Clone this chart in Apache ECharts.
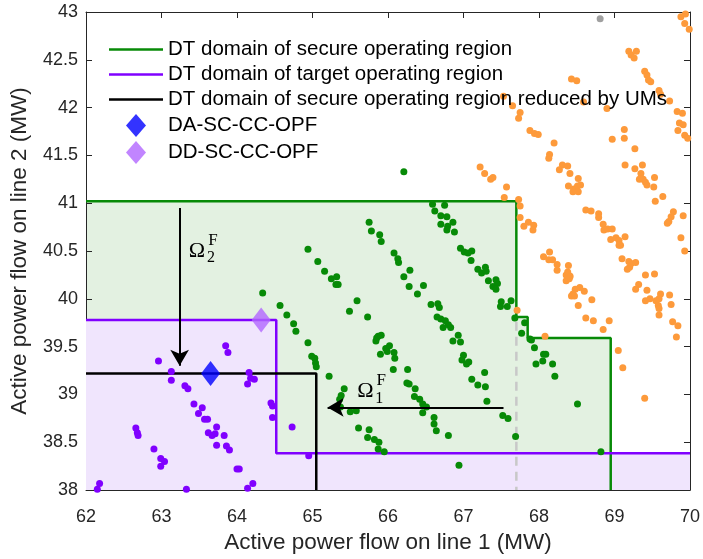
<!DOCTYPE html>
<html>
<head>
<meta charset="utf-8">
<script src="https://cdn.jsdelivr.net/npm/echarts@6/dist/echarts.min.js"></script>
<style>
  html, body { margin: 0; padding: 0; background: #fff; }
  #chart { width: 703px; height: 559px; }
</style>
</head>
<body>
<div id="chart"></div>
<script>
// ---- axis ranges and tick labels ----
const xMin = 62, xMax = 70, xStep = 1;
const yMin = 38, yMax = 43, yStep = 0.5;

// ---- DT-domain boundaries (line 1 flow, line 2 flow) ----
const secureRegion  = [[62, 41.02], [67.70, 41.02], [67.70, 39.81], [67.85, 39.81], [67.85, 39.59], [68.95, 39.59], [68.95, 38]];
const targetRegion  = [[62, 39.78], [64.52, 39.78], [64.52, 38.385], [70, 38.385]];
const reducedRegion = [[62, 39.22], [65.05, 39.22], [65.05, 38]];
const limitLine     = [[67.70, 39.76], [67.70, 38]];

// ---- optimal operating points ----
const daPoint = [[63.65, 39.22]];
const ddPoint = [[64.32, 39.78]];

// ---- arrows showing the fluctuation ranges ----
const arrowOmega2 = [[63.24, 40.95], [63.24, 39.30]];
const arrowOmega1 = [[67.53, 38.865], [65.20, 38.865]];

// ---- sampled operating points ----
const pointsTarget = [
  [62.96,39.35],[63.13,39.24],[63.13,39.15],[63.31,39.09],[63.35,39.06],[63.43,38.90],[63.54,38.86],[63.49,38.80],
  [63.57,38.74],[63.61,38.74],[63.73,38.66],[63.62,38.60],[63.67,38.57],[63.71,38.59],[63.83,38.57],[63.73,38.47],
  [63.86,38.46],[63.90,38.42],[63.85,39.51],[63.88,39.44],[64.16,39.23],[64.18,39.17],[64.23,39.16],[64.14,39.11],
  [64.45,38.91],[64.47,38.88],[64.47,38.76],[64.73,38.66],[64.95,38.36],[62.66,38.65],[62.68,38.60],[62.69,38.57],
  [62.90,38.43],[62.99,38.33],[63.04,38.30],[62.99,38.25],[64.00,38.22],[64.03,38.22],[62.18,38.07],[62.15,38.01],
  [63.33,38.01],[64.14,38.02],[64.21,38.07]
];

const pointsSecure = [
  [65.75,40.80],[65.78,40.71],[65.89,40.67],[65.91,40.60],[66.08,40.48],[66.13,40.42],[66.14,40.38],[66.29,40.30],
  [66.21,40.23],[66.28,40.13],[66.39,40.05],[64.94,40.52],[65.07,40.39],[65.16,40.29],[65.25,40.21],[65.32,40.23],
  [65.31,40.15],[65.34,40.15],[64.34,40.06],[64.57,39.93],[64.66,39.83],[64.75,39.74],[64.78,39.66],[64.94,39.54],
  [64.99,39.40],[65.03,39.38],[65.04,39.33],[65.05,39.29],[65.22,39.19],[65.59,39.98],[65.49,39.87],[65.73,39.81],
  [65.85,39.59],[65.87,39.61],[65.91,39.62],[65.84,39.56],[65.90,39.42],[65.97,39.48],[66.02,39.51],[65.99,39.45],
  [66.08,39.44],[66.09,39.38],[66.07,39.26],[66.26,39.26],[66.25,39.12],[66.28,39.11],[66.36,39.06],[66.35,38.98],
  [65.42,39.06],[65.38,38.99],[65.36,38.95],[65.37,38.87],[65.50,38.82],[65.58,38.83],[65.61,38.65],[65.75,38.63],
  [65.73,38.55],[65.82,38.53],[65.88,38.50],[65.87,38.43],[65.95,38.40],
  [66.59,40.99],[66.75,40.98],[66.62,40.92],[66.70,40.87],[66.78,40.86],[66.86,40.80],[66.70,40.78],[66.79,40.76],
  [66.78,40.72],[66.88,40.70],[66.96,40.53],[67.01,40.49],[67.11,40.50],[67.06,40.48],[67.10,40.40],[67.19,40.31],
  [67.29,40.33],[67.24,40.27],[67.30,40.29],[67.33,40.19],[67.43,40.20],[67.39,40.13],[67.45,40.16],[67.43,40.10],
  [67.63,39.98],[67.50,39.97],[67.58,39.92],[67.49,39.92],[66.47,40.14],[66.57,39.94],[66.66,39.95],[66.68,39.91],
  [66.65,39.81],[66.70,39.79],[66.76,39.77],[66.80,39.73],[66.73,39.70],[66.83,39.70],[66.93,39.62],[66.86,39.56],
  [66.96,39.55],[67.00,39.41],[66.98,39.36],[67.07,39.34],[67.04,39.32],[67.28,39.23],[67.11,39.16],[67.19,39.10],
  [67.29,39.08],[67.31,38.93],[66.42,38.95],[66.46,38.90],[66.51,38.87],[66.46,38.81],[66.61,38.76],[66.61,38.69],
  [66.64,38.62],[66.80,38.57],[67.52,38.78],[67.59,38.75],[67.69,38.56],[66.94,38.26],[67.68,39.80],[67.77,39.64],
  [67.81,39.75],[67.88,39.58],[67.90,39.57],[67.94,39.49],[68.06,39.42],[68.09,39.42],[68.05,39.35],[67.96,39.32],
  [68.18,39.32],[68.21,39.19],[68.51,38.90],[68.82,38.40],[66.21,41.33]
];

const pointsInsecure = [
  [69.88,42.95],[69.94,42.98],[69.93,42.88],[69.99,42.82],[69.19,42.59],[69.22,42.55],[69.29,42.59],[69.26,42.52],
  [69.40,42.38],[69.43,42.34],[69.45,42.29],[69.48,42.27],[69.59,42.18],[69.61,42.14],[69.73,42.07],[69.83,41.96],
  [69.90,41.94],[69.86,41.84],[69.91,41.82],[69.84,41.76],[69.93,41.71],[69.97,41.68],[68.43,42.30],[68.50,42.28],
  [67.53,42.12],[67.65,42.02],[67.75,41.95],[67.73,41.89],[68.59,42.06],[68.90,41.99],[67.88,41.76],[67.94,41.73],
  [67.99,41.72],[69.13,41.77],[69.13,41.68],[68.97,41.67],[68.20,41.63],[69.27,41.57],[68.14,41.51],[68.13,41.47],
  [67.22,41.38],[67.28,41.31],[67.36,41.25],[67.39,41.27],[67.57,41.17],[67.54,41.06],[67.73,41.04],[67.75,40.97],
  [67.75,40.85],[67.80,40.76],[67.86,40.80],[67.93,40.77],[67.92,40.72],[68.31,41.40],[68.38,41.39],[68.27,41.35],
  [68.41,41.31],[68.52,41.26],[68.39,41.18],[68.46,41.15],[68.51,41.18],[68.55,41.19],[68.52,41.12],[68.45,41.12],
  [69.14,41.40],[69.27,41.36],[69.37,41.40],[69.35,41.31],[69.33,41.25],[69.38,41.25],[69.41,41.22],[69.43,41.19],
  [69.53,41.27],[69.52,41.17],[69.64,41.07],[69.54,41.02],[68.62,40.93],[68.69,40.92],[68.79,40.89],[68.79,40.85],
  [68.85,40.78],[68.86,40.72],[68.91,40.73],[68.97,40.73],[68.95,40.62],[69.02,40.64],[69.06,40.61],[69.14,40.65],
  [69.08,40.56],[69.06,40.56],[69.78,40.91],[69.75,40.86],[69.72,40.81],[69.70,40.79],[69.91,40.87],[69.88,40.64],
  [69.93,40.50],[68.06,40.44],[68.14,40.49],[68.13,40.41],[68.18,40.41],[68.24,40.36],[68.24,40.30],[68.39,40.35],
  [68.36,40.25],[68.41,40.24],[69.10,40.42],[69.19,40.39],[69.22,40.37],[69.28,40.38],[69.20,40.33],[69.17,40.31],
  [69.41,40.25],[69.53,40.26],[68.38,40.28],[68.41,40.23],[68.36,40.19],[68.40,40.21],[68.48,40.10],[68.54,40.12],
  [68.60,40.08],[68.45,40.05],[68.43,40.03],[68.47,40.03],[68.70,39.99],[68.52,39.93],[68.62,39.80],[68.72,39.77],
  [68.85,39.68],[68.93,39.77],[68.08,39.61],[69.05,39.46],[69.11,39.28],[69.40,38.96],[69.32,40.15],[69.28,40.10],
  [69.43,40.09],[69.61,40.05],[69.59,40.00],[69.55,39.98],[69.58,39.93],[69.59,39.90],[69.41,39.98],[69.47,40.00],
  [69.59,39.83],[69.73,40.04],[69.75,39.94],[69.77,39.76],[69.84,39.72],[69.82,39.60],[67.71,39.88]
];

const pointsOther = [[68.81, 42.93]];

// ---- symbol label anchors (Omega_2^F, Omega_1^F) ----
const omegaLabels = [
  { at: [63.47, 40.50], sub: '2' },
  { at: [65.70, 39.03], sub: '1' }
];

const FONT = '"Liberation Sans", Arial, Helvetica, sans-serif';
const AXIS_COLOR = '#262626';

// legend glyphs: a thin bar for boundary lines, an upright diamond for operating points
const ICON_LINE = 'path://M0 0H54V2.5H0Z';
const ICON_DIAMOND = 'path://M10 0L20 11.5L10 23L0 11.5Z';

const chart = echarts.init(document.getElementById('chart'), null, { renderer: 'canvas' });

const boxAxis = {
  axisLine: { show: true, onZero: false, lineStyle: { color: AXIS_COLOR, width: 1 } },
  axisTick: { show: true, inside: true, length: 6, lineStyle: { color: AXIS_COLOR, width: 1 } },
  splitLine: { show: false }
};

function dots(name, data, color, size) {
  return {
    name: name, type: 'scatter', data: data, z: 3,
    symbol: 'circle', symbolSize: size,
    itemStyle: { color: color, opacity: 1 },
    silent: true, animation: false
  };
}

function boundary(name, data, color, width) {
  return {
    name: name, type: 'line', data: data, z: 2,
    symbol: 'none', showSymbol: false,
    lineStyle: { color: color, width: width },
    itemStyle: { color: color },
    silent: true, animation: false
  };
}

function fill(name, data, color, z) {
  return {
    name: name, type: 'line', data: data, z: z,
    symbol: 'none', showSymbol: false,
    lineStyle: { width: 0, opacity: 0 },
    areaStyle: { color: color, opacity: 1, origin: 'start' },
    silent: true, animation: false
  };
}

const reducedSeries = boundary('DT domain of secure operating region reduced by UMs', reducedRegion, '#000000', 2.5);
reducedSeries.markLine = {
  silent: true, animation: false,
  symbol: ['none', 'arrow'], symbolSize: [14, 16],
  lineStyle: { color: '#000000', width: 2, type: 'solid' },
  label: { show: false },
  data: [
    [{ coord: arrowOmega2[0] }, { coord: arrowOmega2[1] }],
    [{ coord: arrowOmega1[0] }, { coord: arrowOmega1[1] }]
  ]
};

const option = {
  backgroundColor: '#ffffff',
  animation: false,
  textStyle: { fontFamily: FONT },
  grid: { left: 85, right: 10, top: 12, bottom: 67, containLabel: false },
  xAxis: [
    Object.assign({
      type: 'value', min: xMin, max: xMax, interval: xStep, position: 'bottom',
      name: 'Active power flow on line 1 (MW)', nameLocation: 'middle', nameGap: 40,
      nameTextStyle: { fontSize: 22.5, color: AXIS_COLOR, fontFamily: FONT },
      axisLabel: { fontSize: 18, color: AXIS_COLOR, margin: 18, fontFamily: FONT }
    }, boxAxis),
    Object.assign({
      type: 'value', min: xMin, max: xMax, interval: xStep, position: 'top',
      axisLabel: { show: false }
    }, boxAxis)
  ],
  yAxis: [
    Object.assign({
      type: 'value', min: yMin, max: yMax, interval: yStep, position: 'left',
      name: 'Active power flow on line 2 (MW)', nameLocation: 'middle', nameGap: 55,
      nameTextStyle: { fontSize: 22.5, color: AXIS_COLOR, fontFamily: FONT },
      axisLabel: { fontSize: 18, color: AXIS_COLOR, margin: 8, fontFamily: FONT }
    }, boxAxis),
    Object.assign({
      type: 'value', min: yMin, max: yMax, interval: yStep, position: 'right',
      axisLabel: { show: false }
    }, boxAxis)
  ],
  legend: {
    show: true, orient: 'vertical', left: 109, top: 39, padding: 0,
    itemWidth: 54, itemHeight: 23, itemGap: 4,
    symbolKeepAspect: true,
    selectedMode: false,
    textStyle: { fontSize: 20.5, color: '#000000', fontFamily: FONT },
    data: [
      { name: 'DT domain of secure operating region', icon: ICON_LINE },
      { name: 'DT domain of target operating region', icon: ICON_LINE },
      { name: 'DT domain of secure operating region reduced by UMs', icon: ICON_LINE },
      { name: 'DA-SC-CC-OPF', icon: ICON_DIAMOND },
      { name: 'DD-SC-CC-OPF', icon: ICON_DIAMOND }
    ]
  },
  series: [
    fill('secure-fill', secureRegion, '#e3f1e1', 0),
    fill('target-fill', targetRegion, '#f0e5fd', 1),
    dots('insecure-samples', pointsInsecure, '#fd9a3b', 7),
    dots('secure-samples', pointsSecure, '#078a07', 7),
    dots('target-samples', pointsTarget, '#8000ff', 7),
    dots('other-samples', pointsOther, '#a0a0a0', 7),
    {
      name: 'limit', type: 'line', data: limitLine, z: 2,
      symbol: 'none', showSymbol: false,
      lineStyle: { color: '#c8c8c8', width: 2.5, type: [9, 6] },
      silent: true, animation: false
    },
    boundary('DT domain of secure operating region', secureRegion, '#078a07', 2.5),
    boundary('DT domain of target operating region', targetRegion, '#8000ff', 2.5),
    reducedSeries,
    {
      name: 'DA-SC-CC-OPF', type: 'scatter', data: daPoint, z: 5,
      symbol: 'diamond', symbolSize: [19, 25],
      itemStyle: { color: '#0000ff' }, silent: true, animation: false
    },
    {
      name: 'DD-SC-CC-OPF', type: 'scatter', data: ddPoint, z: 5,
      symbol: 'diamond', symbolSize: [19, 25],
      itemStyle: { color: '#b266ff' }, silent: true, animation: false
    }
  ]
};

chart.setOption(option);

// Omega labels: Ω with superscript F and a numeric subscript, anchored in data space
const SERIF = '"Liberation Serif", "DejaVu Serif", serif';
const graphics = [];
omegaLabels.forEach(function (lab) {
  const p = chart.convertToPixel({ xAxisIndex: 0, yAxisIndex: 0 }, lab.at);
  graphics.push({
    type: 'text', x: p[0], y: p[1], z: 100,
    style: { text: 'Ω', font: '22px ' + SERIF, fill: '#000', align: 'center', verticalAlign: 'middle' }
  });
  graphics.push({
    type: 'text', x: p[0] + 16, y: p[1] - 11, z: 100,
    style: { text: 'F', font: '17px ' + SERIF, fill: '#000', align: 'center', verticalAlign: 'middle' }
  });
  graphics.push({
    type: 'text', x: p[0] + 14, y: p[1] + 7, z: 100,
    style: { text: lab.sub, font: '16px ' + SERIF, fill: '#000', align: 'center', verticalAlign: 'middle' }
  });
});
chart.setOption({ graphic: graphics });
</script>
</body>
</html>
